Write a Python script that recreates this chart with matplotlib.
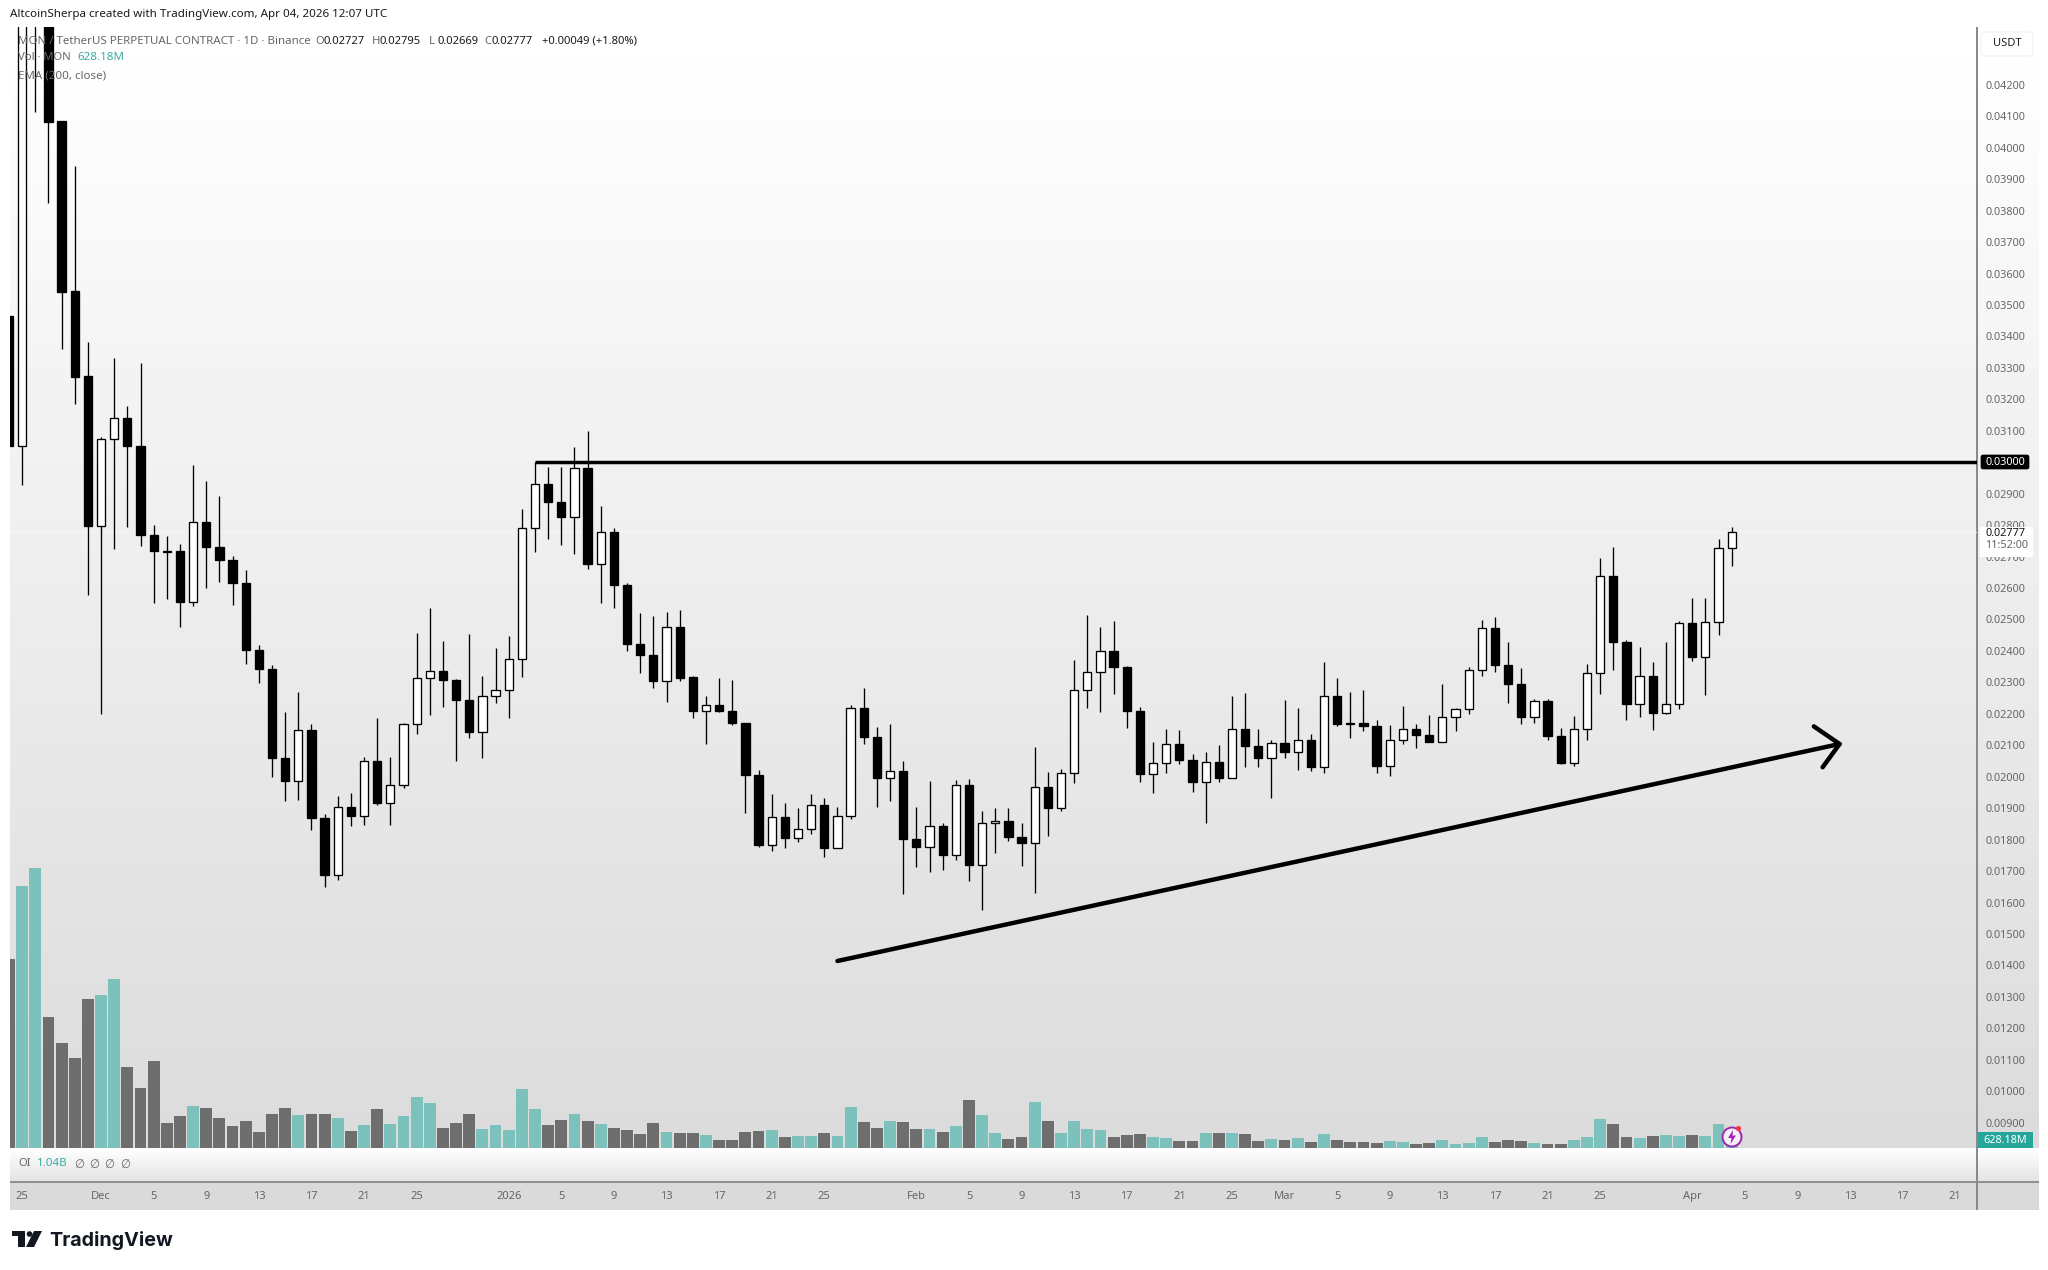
import matplotlib
matplotlib.use('Agg')
import matplotlib.pyplot as plt
import matplotlib.patches as mpatches
import numpy as np
import pandas as pd

plt.rcParams['font.family'] = ['Noto Sans', 'DejaVu Sans']

# daily candles, 2025-11-24 to 2026-04-04
first_day = '2025-11-24'
opens = [
    .03465, .03052, .0445, .0470, .04085, .03544, .03274,
    .02797, .03074, .03141, .03052, .02767, .02719, .02718, .02556, .0281, .0273, .02689,
    .02617, .02403, .02342, .02061, .01986, .0215, .0187, .01686, .01904, .01875, .0205,
    .01917, .01973, .02169, .02314, .02336, .02307, .02245, .02141, .02258,
    .02276, .02374, .02791, .02931, .02875, .02826, .02983, .02677, .02778, .02611, .02421,
    .02386, .02304, .02477, .02317, .02209, .02227, .02209, .02172, .02006, .01782, .01873,
    .01805, .01833, .0191, .01773, .01876, .02218, .02127, .01997, .02018,
    .01802, .01776, .01844, .01751, .01974, .01719, .01852, .0186, .01808, .01789, .01967,
    .01901, .02012, .02275, .02334, .02401, .02349, .0221, .0201, .02043, .02103, .02053,
    .01982, .02046, .01997, .02151, .02099, .0206,
    .02106, .0208, .02116, .02032, .02256, .0217, .0217, .02161, .02035, .02116, .02151,
    .02134, .0211, .02189, .02214, .0234, .02474, .02355, .02295, .02191, .0224, .0213,
    .02044, .02151, .02329, .02637, .02427, .02231, .02321, .02204, .0223,
    .0249, .02381, .02492, .02727]
highs = [
    .03465, .0460, .0500, .0480, .04085, .03942, .03382,
    .03079, .03331, .03179, .03317, .028, .02765, .0274, .02991, .02939, .02893, .02702,
    .02657, .02419, .02355, .02206, .02269, .02168, .01881, .01939, .01949, .02063, .02188,
    .02064, .02171, .02457, .02536, .02431, .02312, .02455, .0232, .02409,
    .02448, .0285, .03, .02985, .02985, .03049, .031, .02861, .02791, .02617, .02522,
    .02512, .02525, .02531, .02321, .02257, .02314, .02307, .02172, .02021, .01945, .01916,
    .01901, .01945, .01933, .01905, .02228, .02281, .02158, .02168, .0205,
    .01905, .01987, .01854, .0199, .01993, .01892, .019, .019, .01854, .02094, .02015,
    .02024, .0237, .02515, .02477, .02496, .02352, .02222, .0211, .02152, .02148, .02072,
    .02078, .02101, .02256, .02265, .02151, .02117,
    .02243, .02218, .02136, .02364, .02313, .02268, .02275, .0218, .02164, .02225, .02168,
    .02196, .02294, .02218, .0235, .02499, .02509, .02427, .02345, .02246, .02246, .02154,
    .02193, .02357, .02694, .0273, .02435, .02411, .02364, .02427, .02496,
    .02569, .02569, .02756, .02795]
lows = [
    .03052, .02929, .04114, .03823, .0336, .03185, .02578,
    .02199, .02724, .02795, .02735, .02552, .02565, .02477, .02543, .026, .0262, .02546,
    .02358, .02298, .02, .01924, .01927, .01831, .01648, .01671, .01843, .01846, .0191,
    .01846, .01965, .02137, .02197, .02223, .02051, .02122, .0206, .02233,
    .02188, .02317, .02715, .02756, .02737, .02708, .02661, .02553, .02537, .024, .0233,
    .02283, .02239, .02304, .02188, .02105, .02207, .02164, .01886, .01777, .01764, .01773,
    .01792, .01818, .01745, .01773, .01865, .02105, .01904, .01924, .01628,
    .01713, .01697, .01703, .01735, .01668, .01576, .01757, .01796, .01716, .0163, .01811,
    .01892, .01981, .02218, .02207, .02263, .02156, .01984, .01949, .02013, .0204, .01952,
    .01852, .01984, .01995, .02032, .02032, .01933,
    .02058, .02021, .02018, .02013, .02162, .02124, .02146, .02011, .02003, .02105, .02092,
    .0211, .02109, .02146, .02199, .0232, .02333, .02234, .02169, .02171, .02118, .02041,
    .02035, .02117, .02263, .02339, .0218, .02191, .02148, .022, .02215,
    .02368, .0226, .0245, .02669]
closes = [
    .03052, .0445, .0470, .04083, .03541, .03271, .02797,
    .03074, .03141, .03052, .02767, .02719, .02716, .02556, .0281, .0273, .02689, .02616,
    .02403, .02342, .02059, .01986, .0215, .0187, .01686, .01904, .01875, .0205, .01917,
    .01973, .02169, .02314, .02336, .02307, .02245, .02143, .02258, .02276,
    .02374, .02791, .02931, .02875, .02826, .02983, .02677, .02778, .02611, .02421, .02386,
    .02304, .02477, .02314, .02209, .02227, .02209, .02172, .02006, .01782, .01873, .01805,
    .01833, .0191, .01773, .01876, .02218, .02127, .01997, .02018, .01802,
    .01776, .01844, .01751, .01974, .01719, .01854, .0186, .01808, .01789, .01967, .01901,
    .02012, .02275, .02334, .02401, .02349, .0221, .0201, .02043, .02103, .02053, .01982,
    .02046, .01997, .02151, .02099, .0206, .02106,
    .0208, .02116, .02032, .02256, .02168, .02168, .02161, .02035, .02116, .02151, .02134,
    .0211, .02189, .02214, .0234, .02474, .02355, .02295, .02191, .0224, .0213, .02044,
    .02151, .02329, .02637, .02427, .02231, .02321, .02204, .0223, .0249,
    .02381, .02492, .02726, .02777]
# volume in millions
volumes = [
    9450, 13100, 14000, 6550, 5250, 4500, 7450,
    7650, 8450, 4050, 3000, 4350, 1250, 1600, 2100, 2000, 1500, 1100,
    1350, 800, 1700, 2000, 1650, 1700, 1700, 1500, 850, 1150, 1950,
    1225, 1625, 2550, 2250, 1000, 1250, 1700, 950, 1150,
    900, 2950, 1935, 1150, 1385, 1685, 1350, 1200, 1000, 900, 700,
    1250, 815, 765, 765, 650, 400, 400, 800, 850, 900, 550,
    600, 600, 750, 600, 2050, 1300, 1000, 1350, 1300,
    950, 965, 800, 1115, 2385, 1650, 765, 450, 550, 2300, 1350,
    750, 1365, 950, 915, 550, 650, 700, 535, 500, 350, 350,
    750, 750, 765, 700, 350, 450,
    400, 500, 300, 700, 415, 300, 300, 250, 350, 300, 200,
    250, 415, 200, 250, 550, 300, 400, 350, 250, 200, 200,
    400, 550, 1435, 1200, 550, 500, 600, 650, 600,
    650, 600, 1200, 628.18]

price_ticks = [round(0.009 + 0.001 * k, 3) for k in range(34)]
time_tick_dates = [
    '2025-11-25', '2025-12-01', '2025-12-05', '2025-12-09', '2025-12-13', '2025-12-17',
    '2025-12-21', '2025-12-25', '2026-01-01', '2026-01-05', '2026-01-09', '2026-01-13',
    '2026-01-17', '2026-01-21', '2026-01-25', '2026-02-01', '2026-02-05', '2026-02-09',
    '2026-02-13', '2026-02-17', '2026-02-21', '2026-02-25', '2026-03-01', '2026-03-05',
    '2026-03-09', '2026-03-13', '2026-03-17', '2026-03-21', '2026-03-25', '2026-04-01',
    '2026-04-05', '2026-04-09', '2026-04-13', '2026-04-17', '2026-04-21']
time_tick_labels = [
    '25', 'Dec', '5', '9', '13', '17', '21', '25', '2026', '5', '9', '13', '17', '21', '25',
    'Feb', '5', '9', '13', '17', '21', '25', 'Mar', '5', '9', '13', '17', '21', '25', 'Apr',
    '5', '9', '13', '17', '21']

level_price = 0.03
level_start = '2026-01-03'
trend_dates = ['2026-01-26', '2026-04-12 05:00']
trend_prices = [0.01414, 0.02104]
head_upper = ('2026-04-10 06:00', 0.02160)
head_lower = ('2026-04-10 22:00', 0.02030)

W, H = 2048, 1270
LEFT, RIGHT, TOP, BOTTOM = 10, 1977, 27, 1148
AXIS_RIGHT = 2039
DAY_PX = 13.15
FIRST_X = 9
PRICE_PX = 31450.0
TEXT_GREY = '#666666'
TEAL = '#7cc1bc'
DARK_VOL = '#6e6e6e'


def pane(fig, zorder):
    ax = fig.add_axes([LEFT / W, 1 - BOTTOM / H, (RIGHT - LEFT) / W, (BOTTOM - TOP) / H],
                      zorder=zorder)
    ax.patch.set_alpha(0)
    for s in ax.spines.values():
        s.set_visible(False)
    ax.set_xlim((LEFT - FIRST_X) / DAY_PX, (RIGHT - FIRST_X) / DAY_PX)
    return ax


def day_index(date):
    return (pd.Timestamp(date) - pd.Timestamp(first_day)).total_seconds() / 86400


def gradient(ax, x0, x1, y0, y1, top, bottom):
    g = np.linspace(top, bottom, 256).reshape(-1, 1)
    ax.imshow(g, cmap='gray', vmin=0, vmax=255, extent=[x0, x1, y1, y0], aspect='auto',
              interpolation='bilinear')


fig = plt.figure(figsize=(W / 100, H / 100), dpi=100, facecolor='white')

# panes background, in pixel coordinates
bg = fig.add_axes([0, 0, 1, 1], zorder=0)
bg.axis('off')
gradient(bg, LEFT, AXIS_RIGHT, TOP, BOTTOM, 255, 219)
gradient(bg, LEFT, AXIS_RIGHT, BOTTOM, 1181, 255, 228)
bg.add_patch(mpatches.Rectangle((LEFT, 1183), AXIS_RIGHT - LEFT, 27, color='#dadada', lw=0))
bg.add_patch(mpatches.Rectangle((LEFT, 1181), AXIS_RIGHT - LEFT, 2, color='#8f8f8f', lw=0))
bg.add_patch(mpatches.Rectangle((RIGHT - 1, TOP), 2, 1210 - TOP, color='#8a8a8a', lw=0))
bg.set_xlim(0, W)
bg.set_ylim(H, 0)

x = np.arange(len(opens))
o, h, l, c = map(np.array, (opens, highs, lows, closes))
up = c >= o

# volume
ax_vol = pane(fig, 1)
vol_colors = [TEAL if u else DARK_VOL for u in up]
ax_vol.bar(x, volumes, width=0.9, color=vol_colors, linewidth=0)
ax_vol.set_ylim(0, (BOTTOM - TOP) * 50)
ax_vol.set_xticks([])
ax_vol.set_yticks([])

# candles
ax = pane(fig, 2)
ax.set_ylim(0.02 + (776.7 - BOTTOM) / PRICE_PX, 0.02 + (776.7 - TOP) / PRICE_PX)
ax.axhline(closes[-1], color='white', lw=0.9, ls=(0, (1, 2)), zorder=1)
ax.vlines(x, l, h, color='black', lw=0.95, zorder=2)
ax.bar(x, np.abs(c - o), bottom=np.minimum(o, c), width=0.63,
       color=['white' if u else 'black' for u in up], edgecolor='black', linewidth=0.95, zorder=3)

ax.hlines(level_price, day_index(level_start), len(x) + 30, color='black', lw=2.5, zorder=4)
ax.plot([day_index(d) for d in trend_dates], trend_prices, color='black', lw=3.2,
        solid_capstyle='round', zorder=4)
ax.plot([day_index(head_upper[0]), day_index(trend_dates[1]), day_index(head_lower[0])],
        [head_upper[1], trend_prices[1], head_lower[1]], color='black', lw=3.2,
        solid_capstyle='round', solid_joinstyle='round', zorder=4)

ax.yaxis.tick_right()
ax.set_yticks(price_ticks)
ax.set_yticklabels([f'{p:.5f}' for p in price_ticks], fontsize=7.8, color=TEXT_GREY)
ax.tick_params(axis='y', length=0, pad=6)
ax.set_xticks([day_index(d) for d in time_tick_dates])
ax.set_xticklabels(time_tick_labels, fontsize=8, color=TEXT_GREY)
ax.tick_params(axis='x', length=0, pad=31)

# overlay: labels, legend, watermark
top = fig.add_axes([0, 0, 1, 1], zorder=3)
top.axis('off')
top.patch.set_alpha(0)
top.set_xlim(0, W)
top.set_ylim(H, 0)


def label(px, py, s, color=TEXT_GREY, size=8, weight='normal', ha='left', **kw):
    top.text(px, py, s, color=color, fontsize=size, fontweight=weight, ha=ha, va='center', **kw)


label(10, 14.5, 'AltcoinSherpa created with TradingView.com, Apr 04, 2026 12:07 UTC',
      color='#1a1a1a', size=8.35)
label(18, 41, 'MON / TetherUS PERPETUAL CONTRACT · 1D · Binance', size=8.3)
for px, head, val in [(315, 'O', '0.02727'), (372, 'H', '0.02795'),
                      (429, 'L', '0.02669'), (484, 'C', '0.02777')]:
    label(px, 41, head, size=8.1)
    label(px + 8, 41, val, color='#1a1a1a', size=8.1)
label(542, 41, '+0.00049 (+1.80%)', color='#1a1a1a', size=8.1)
label(18, 58, 'Vol · MON', size=8.1)
label(77, 58, '628.18M', color='#3aa99f', size=8.3)
label(18, 75.5, 'EMA (200, close)', size=8.3)

label(18, 1164, 'OI', size=8.1)
label(37, 1164, '1.04B', color='#3aa99f', size=8.3, weight='bold')
for px in (79, 94.5, 109.5, 125):
    label(px, 1164, '∅', size=8.3, ha='center', family='DejaVu Sans')

top.add_patch(mpatches.FancyBboxPatch((1983, 34), 48, 20, boxstyle='round,pad=2,rounding_size=4',
                                      fc='white', ec='#f0f0f0', lw=0.8))
label(2007, 44, 'USDT', color='#222222', size=8, ha='center')

top.add_patch(mpatches.FancyBboxPatch((1982, 456), 46, 12, boxstyle='round,pad=1,rounding_size=2',
                                      fc='black', ec='black', lw=0.5))
label(2005, 462.5, '0.03000', color='white', size=7.8, weight='bold', ha='center')

top.add_patch(mpatches.Rectangle((1980, 527), 53, 30, fc='white', ec='none'))
label(1985, 533, '0.02777', color='#111111', size=7.8, weight='bold')
label(1985, 546, '11:52:00', size=7.8)

top.add_patch(mpatches.Rectangle((1978, 1132), 55, 16, fc='#26a69a', ec='none'))
label(2005.5, 1140.5, '628.18M', color='white', size=7.8, weight='bold', ha='center')

# news badge on the last bar
top.add_patch(mpatches.Circle((1732, 1137), 9.5, fc='#f6eef8', ec='#9c27b0', lw=1.4))
top.add_patch(mpatches.Polygon([(1733, 1130), (1728, 1138), (1731.5, 1138), (1730.5, 1144),
                                (1736, 1135.5), (1732.5, 1135.5)], fc='#9c27b0', ec='none'))
top.add_patch(mpatches.Circle((1738.5, 1128.5), 2.6, fc='#f23645', ec='none'))

# watermark
top.add_patch(mpatches.Rectangle((12, 1231), 13, 5, fc='#131722', ec='none'))
top.add_patch(mpatches.Rectangle((18, 1231), 7, 16, fc='#131722', ec='none'))
top.add_patch(mpatches.Circle((29.5, 1234), 2.8, fc='#131722', ec='none'))
top.add_patch(mpatches.Polygon([(34, 1231), (42, 1231), (34, 1247), (26, 1247)],
                               fc='#131722', ec='none'))
label(49, 1240, 'TradingView', color='#131722', size=14.2, weight='bold', family='Inter')

fig.savefig('out.png', dpi=100, facecolor='white')
